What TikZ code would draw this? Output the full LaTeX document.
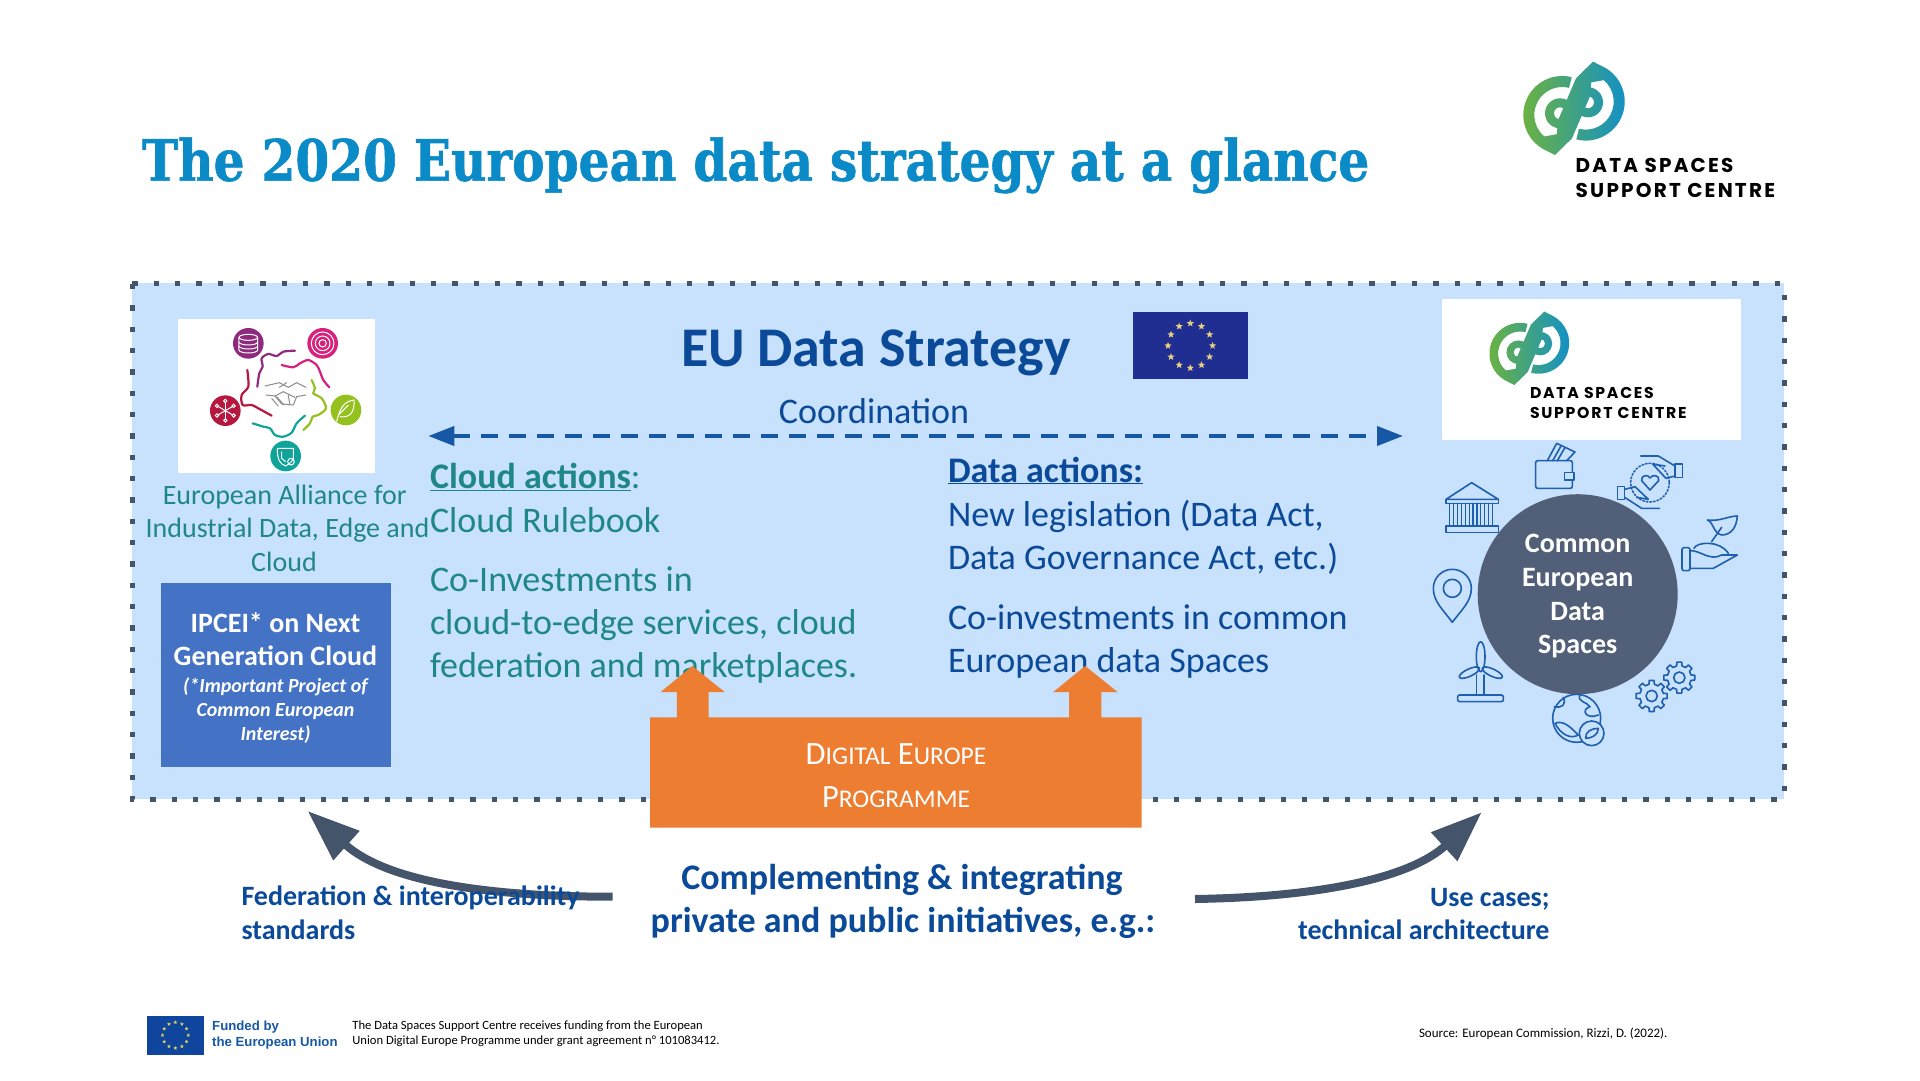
\documentclass[tikz,border=0pt]{standalone}
\usepackage{fontspec}
\setmainfont{Carlito}
\newfontfamily\titlefont[FakeStretch=0.854,FakeBold=1]{DejaVu Serif}
\newfontfamily\logofont[LetterSpace=11]{Poppins}
\newfontfamily\fundfont{Liberation Sans}
\usetikzlibrary{arrows.meta,calc,shapes.geometric}
\definecolor{panelblue}{HTML}{C8E1FC}
\definecolor{slate}{HTML}{44546A}
\definecolor{discgrey}{HTML}{525F78}
\definecolor{navytext}{HTML}{0B4A99}
\definecolor{tealtext}{HTML}{1F8787}
\definecolor{titleblue}{HTML}{0B8AC8}
\definecolor{dashblue}{HTML}{1658A6}
\definecolor{iconblue}{HTML}{1F5FAF}
\definecolor{orangebox}{HTML}{ED7D31}
\definecolor{ipceiblue}{HTML}{4472C4}
\definecolor{flagblue}{HTML}{202D91}
\definecolor{flagstarcol}{HTML}{E5CF80}
\definecolor{fundblue}{HTML}{10459E}
\definecolor{fundstarcol}{HTML}{E2D65A}
\definecolor{logogreen}{HTML}{6DB33F}
\definecolor{logoteal}{HTML}{2C9C8E}
\definecolor{logoblue}{HTML}{1190C8}
\definecolor{allpurple}{HTML}{8E2A7E}
\definecolor{allpink}{HTML}{D6227D}
\definecolor{allred}{HTML}{B5173F}
\definecolor{alllime}{HTML}{95C11F}
\definecolor{allteal}{HTML}{0FA39A}
\newcommand\fsz[1]{\fontsize{#1}{#1}\selectfont}
\newcommand\capsmall[2]{{\fsz{32.5}#1}{\fsz{25.5}#2}}
\def\logomark(#1)(#2){
	\begin{scope}[shift={(#1)},scale=#2]
		\shade[left color=logogreen,middle color=logoteal,right color=logoblue]
			(-2.27,-31.14) arc (-76:-240:39) -- (-19,46.7) -- (-12,25) -- (-29.7,28.15) arc (130:284:28) -- cycle
			(2.27,31.14) arc (104:-60:39) -- (19,-46.7) -- (12,-25) -- (29.7,-28.15) arc (-50:104:28) -- cycle
			(19,-46.7) -- (2,-30) -- (-16,12) -- (-19,46.7) -- (-2,30) -- (16,-12) -- cycle
			(1,5) arc (0:-360:15) (-8,5) arc (0:360:6)
			(29,-6) arc (0:-360:15) (20,-6) arc (0:360:6);
	\end{scope}
}
\def\gearmark(#1){
	\begin{scope}[shift={(#1)}]
		\foreach \a in {0,45,...,315}
			\draw[iconline] (\a-13:36) -- (\a-9:47) -- (\a+9:47) -- (\a+13:36) arc (\a+13:\a+32:36);
		\draw[iconline] (0,0) circle (17);
	\end{scope}
}
\tikzset{
	iconline/.style={draw=iconblue,line width=1.6pt,line join=round,line cap=round},
	handline/.style={draw=black!45,line width=1pt,line join=round,line cap=round},
	cloudline/.style={line width=2.2pt,line cap=round},
	whiteline/.style={draw=white,line width=1pt},
	tealline/.style={anchor=base west,text=tealtext,font=\fsz{36}},
	navyline/.style={anchor=base west,text=navytext,font=\fsz{36}},
	flagstar/.style={star,star points=5,star point ratio=2.3,inner sep=0pt,minimum size=#1},
}
\begin{document}
\begin{tikzpicture}[x=1pt,y=-1pt,every node/.style={inner sep=0pt,outer sep=0pt}]
	\useasboundingbox (0,0) rectangle (1920,1080);
	\fill[white] (0,0) rectangle (1920,1080);

	%%%%% HEADER %%%%%
	\node[anchor=base west,text=titleblue,font=\titlefont\bfseries\fsz{57}] (title) at (142,180.7) {The 2020 European data strategy at a glance};
	\logomark(1574,108.3)(1)
	\node[anchor=base west,font=\logofont\bfseries\fsz{20}] (logotopa) at (1575.7,172.7) {DATA SPACES};
	\node[anchor=base west,font=\logofont\bfseries\fsz{20}] (logotopb) at (1575.7,197.7) {SUPPORT CENTRE};

	%%%%% PANEL %%%%%
	\fill[panelblue] (132.3,283.3) rectangle (1784.3,799.3);
	\draw[slate,line width=5.33pt,dash pattern=on 5.33pt off 16pt] (132.3,283.3) -- (1784.3,283.3) -- (1784.3,799.3) -- (132.3,799.3) -- cycle;

	\node[anchor=base west,text=navytext,font=\bfseries\fsz{56}] (strategy) at (681,366) {EU Data Strategy};
	\fill[flagblue] (1132.7,312.3) rectangle (1248,379.3);
	\foreach \a in {0,30,...,330}
		\node[flagstar=7.5pt,fill=flagstarcol,name=flagstar\a] at ($(1190.3,345.7)+(\a:22.3)$) {};

	\node[anchor=base,text=navytext,font=\fsz{36}] (coord) at (874,423) {Coordination};
	\coordinate (coordleft) at (428.3,436);
	\coordinate (coordright) at (1403,436);
	\draw[dashblue,line width=4pt,dash pattern=on 16.7pt off 11.3pt,{Triangle[length=26pt,width=19pt]}-{Triangle[length=26pt,width=19pt]}] (coordleft) -- (coordright);

	%%%%% ALLIANCE %%%%%
	\fill[white] (178,318.7) rectangle (374.7,472.7);
	\begin{scope}[shift={(120,280)},scale=0.3333]
		\fill[allpurple] (385,190) circle (46);
		\fill[allpink] (608,190) circle (46);
		\fill[allred] (316,392) circle (46);
		\fill[alllime] (678,390) circle (46);
		\fill[allteal] (497,528) circle (46);
		% cloud pieces
		\draw[cloudline,allpurple] plot[smooth] coordinates {(412,320) (418,280) (428,260) (425,235) (445,222) (470,228) (490,215) (525,212)};
		\draw[cloudline,allpink] plot[smooth] coordinates {(485,255) (520,262) (540,250) (565,240) (590,255) (600,275) (610,300) (628,322)};
		\draw[cloudline,alllime] plot[smooth] coordinates {(575,300) (585,325) (580,340) (605,355) (618,385) (595,405) (578,410) (570,430) (550,450)};
		\draw[cloudline,allteal] plot[smooth] coordinates {(398,430) (430,440) (450,445) (465,465) (490,470) (515,458) (530,430) (555,407)};
		\draw[cloudline,allred] plot[smooth] coordinates {(382,270) (385,320) (365,345) (368,375) (395,375) (415,385) (455,407)};
		% handshake
		\draw[handline] (435,318) -- (478,308) -- (505,322) -- (530,308) -- (558,322);
		\draw[handline] (438,345) -- (465,348) -- (485,372) -- (520,375) -- (530,350) -- (558,345);
		\draw[handline] (478,322) -- (500,308) (465,348) -- (490,335) -- (525,352);
		\draw[handline] (455,355) -- (475,378) (470,350) -- (492,375) (505,345) -- (510,375);
		% icons in the small circles
		\draw[whiteline] (385,172) ellipse (28 and 9);
		\draw[whiteline] (357,172) -- (357,210) arc (180:0:28 and 9) -- (413,172);
		\draw[whiteline] (357,186) arc (180:0:28 and 9) (357,198) arc (180:0:28 and 9);
		\draw[whiteline] (608,190) circle (34) (608,190) circle (22) (608,190) circle (11);
		\foreach \a in {30,90,150,210,270,330} {
			\draw[whiteline] (316,392) -- ++(\a:24);
			\draw[whiteline] ($(316,392)+(\a:29)$) circle (5);
		}
		\draw[whiteline] (650,425) .. controls (660,385) and (670,365) .. (702,360) .. controls (705,395) and (690,415) .. (660,410);
		\draw[whiteline] (655,405) -- (685,375);
		\draw[whiteline] (472,505) -- (520,505) -- (520,535) .. controls (515,550) and (500,555) .. (497,558) .. controls (480,552) and (472,540) .. (472,505);
		\draw[whiteline] (485,515) -- (485,535) -- (497,545);
		\draw[whiteline] (513,545) circle (10);
	\end{scope}
	\node[anchor=base,text=tealtext,font=\fsz{28}] (alliancea) at (284.7,504) {European Alliance for};
	\node[anchor=base,text=tealtext,font=\fsz{28}] (allianceb) at (287.5,537.7) {Industrial Data, Edge and};
	\node[anchor=base,text=tealtext,font=\fsz{28}] (alliancec) at (284,571.7) {Cloud};

	%%%%% IPCEI %%%%%
	\fill[ipceiblue] (161,583) rectangle (390.6,766.5);
	\node[anchor=base,text=white,font=\bfseries\fsz{28}] (ipceia) at (275.5,632) {IPCEI* on Next};
	\node[anchor=base,text=white,font=\bfseries\fsz{28}] (ipceib) at (275.5,665) {Generation Cloud};
	\node[anchor=base,text=white,font=\bfseries\itshape\fsz{20}] (ipceic) at (275.5,692) {(*Important Project of};
	\node[anchor=base,text=white,font=\bfseries\itshape\fsz{20}] (ipceid) at (275.5,716) {Common European};
	\node[anchor=base,text=white,font=\bfseries\itshape\fsz{20}] (ipceie) at (275.5,740) {Interest)};

	%%%%% ACTIONS %%%%%
	\node[tealline] (clouda) at (430,488.5) {\underline{\textbf{Cloud actions}}:};
	\node[tealline] (cloudb) at (430,532) {Cloud Rulebook};
	\node[tealline] (cloudc) at (430,591) {Co-Investments in};
	\node[tealline] (cloudd) at (430,634.3) {cloud-to-edge services, cloud};
	\node[tealline] (cloude) at (430,677) {federation and marketplaces.};
	\node[navyline] (dataa) at (948,482) {\underline{\textbf{Data actions:}}};
	\node[navyline] (datab) at (948,526) {New legislation (Data Act,};
	\node[navyline] (datac) at (948,569) {Data Governance Act, etc.)};
	\node[navyline] (datad) at (948,629) {Co-investments in common};
	\node[navyline] (datae) at (948,672) {European data Spaces};

	%%%%% RIGHT LOGO AND SPACES %%%%%
	\fill[white] (1441.7,299) rectangle (1741,440);
	\logomark(1529.3,348.3)(0.787)
	\node[anchor=base west,font=\logofont\bfseries\fsz{15.7}] (logolowa) at (1530,398.2) {DATA SPACES};
	\node[anchor=base west,font=\logofont\bfseries\fsz{15.7}] (logolowb) at (1530,418.2) {SUPPORT CENTRE};

	\node[circle,fill=discgrey,minimum size=200pt] (spaces) at (1577.7,594.2) {};
	\node[anchor=base,text=white,font=\bfseries\fsz{28}] (spacesa) at (1577.7,552.7) {Common};
	\node[anchor=base,text=white,font=\bfseries\fsz{28}] (spacesb) at (1577.7,586) {European};
	\node[anchor=base,text=white,font=\bfseries\fsz{28}] (spacesc) at (1577.7,620) {Data};
	\node[anchor=base,text=white,font=\bfseries\fsz{28}] (spacesd) at (1577.7,653) {Spaces};

	\begin{scope}[shift={(1420,440)},scale=0.3333]
		% wallet
		\draw[iconline] (382,62) -- (410,10) -- (465,36) -- (440,62);
		\draw[iconline] (398,62) -- (423,18) (412,62) -- (434,24);
		\draw[iconline,rounded corners=2pt] (347,62) rectangle (457,145);
		\draw[iconline,fill=panelblue] (433,97) rectangle (462,120);
		% hands and heart
		\draw[iconline,dotted] (690,128) circle (58);
		\draw[iconline] (690,150) -- (665,122) .. controls (662,105) and (685,102) .. (690,114) .. controls (697,102) and (720,105) .. (716,122) -- cycle;
		\draw[iconline] (592,140) rectangle (614,178);
		\draw[iconline] (614,148) -- (645,140) -- (685,178) -- (650,172);
		\draw[iconline] (614,172) -- (665,205) -- (718,205);
		\draw[iconline] (765,72) rectangle (788,112);
		\draw[iconline] (765,108) -- (738,115) -- (698,72) -- (735,78);
		\draw[iconline] (765,78) -- (715,48) -- (662,48);
		% leaf on hand
		\draw[iconline,rounded corners=2pt] (786,323) rectangle (810,392);
		\draw[iconline] (810,332) .. controls (840,330) and (870,365) .. (905,345) -- (952,345) -- (880,385) -- (810,385);
		\draw[iconline] (822,325) .. controls (830,305) and (900,300) .. (925,340);
		\draw[iconline] (875,305) -- (905,262);
		\draw[iconline] (905,285) .. controls (880,280) and (880,245) .. (862,240) .. controls (900,245) and (925,228) .. (952,228) .. controls (950,260) and (935,285) .. (905,285);
		% temple
		\draw[iconline] (78,178) -- (155,128) -- (235,178) -- cycle;
		\draw[iconline] (78,178) rectangle (235,190);
		\draw[iconline] (78,258) rectangle (235,277);
		\foreach \cx in {95,118,142,165,188,212}
			\draw[iconline] (\cx-6,190) -- (\cx-6,258) (\cx+6,190) -- (\cx+6,258);
		% pin
		\draw[iconline] (97,445) circle (27);
		\draw[iconline] (97,547) .. controls (70,510) and (40,485) .. (40,445) arc (180:360:57) .. controls (154,485) and (124,510) .. (97,547);
		% turbine
		\draw[iconline] (182,650) ellipse (13 and 45);
		\draw[iconline,rotate around={25:(148,698)}] (148,698) ellipse (33 and 11);
		\draw[iconline,rotate around={-25:(217,698)}] (217,698) ellipse (33 and 11);
		\draw[iconline] (170,705) -- (170,765) (192,705) -- (192,765);
		\draw[iconline,rounded corners=2pt] (113,765) rectangle (250,785);
		% globe
		\draw[iconline] (470,835) circle (72);
		\draw[iconline] (430,772) .. controls (440,795) and (425,805) .. (403,800);
		\draw[iconline] (480,765) .. controls (470,785) and (500,785) .. (510,800) .. controls (480,810) and (500,840) .. (535,825);
		\draw[iconline] (405,850) .. controls (430,840) and (450,860) .. (475,885) .. controls (450,900) and (420,880) .. (405,850);
		\draw[iconline,fill=panelblue] (515,880) circle (37);
		\draw[iconline] (497,895) .. controls (495,875) and (515,865) .. (535,865) .. controls (535,885) and (515,895) .. (497,895);
		% gears
		\gearmark(695,768)
		\gearmark(778,713)
	\end{scope}

	%%%%% PROGRAMME %%%%%
	\fill[orangebox] (650,717.3) -- (676.8,717.3) -- (676.8,692) -- (660.7,692) -- (692.3,666) -- (724.7,692) -- (708.5,692) -- (708.5,717.3) -- (1069,717.3) -- (1069,692) -- (1053.2,692) -- (1085.2,666) -- (1117.6,692) -- (1101.4,692) -- (1101.4,717.3) -- (1141.7,717.3) -- (1141.7,827.7) -- (650,827.7) -- cycle;
	\node[anchor=base,text=white,font=\fsz{32.5}] (progra) at (896,764) {\capsmall{D}{IGITAL} \capsmall{E}{UROPE}};
	\node[anchor=base,text=white,font=\fsz{32.5}] (progrb) at (896,807.7) {\capsmall{P}{ROGRAMME}};

	%%%%% BOTTOM %%%%%
	\node[anchor=base,text=navytext,font=\bfseries\fsz{36}] (compa) at (902,889) {Complementing \& integrating};
	\node[anchor=base,text=navytext,font=\bfseries\fsz{36}] (compb) at (903,932) {private and public initiatives, e.g.:};

	\coordinate (fedstart) at (612.7,896.7);
	\coordinate (fedtip) at (307.7,811);
	\draw[slate,line width=8pt,-{Triangle[length=52pt,width=37.4pt]}] (fedstart) .. controls (480,896.7) and (385,880) .. (fedtip);
	\coordinate (usestart) at (1195,899);
	\coordinate (usetip) at (1481.7,812.3);
	\draw[slate,line width=8pt,-{Triangle[length=51pt,width=37pt]}] (usestart) .. controls (1320,897) and (1410,878) .. (usetip);

	\node[anchor=base west,text=navytext,font=\bfseries\fsz{28}] (feda) at (241.5,905.5) {Federation \& interoperability};
	\node[anchor=base west,text=navytext,font=\bfseries\fsz{28}] (fedb) at (241.5,939) {standards};
	\node[anchor=base east,text=navytext,font=\bfseries\fsz{28}] (usea) at (1549.5,906) {Use cases;};
	\node[anchor=base east,text=navytext,font=\bfseries\fsz{28}] (useb) at (1549.5,939) {technical architecture};

	%%%%% FOOTER %%%%%
	\fill[fundblue] (146.9,1015.7) rectangle (204,1054.7);
	\foreach \a in {0,30,...,330}
		\node[flagstar=4pt,fill=fundstarcol,name=fundstar\a] at ($(175.4,1035.2)+(\a:12.9)$) {};
	\node[anchor=base west,text=dashblue,font=\fundfont\bfseries\fsz{13.2}] (funda) at (212.2,1030.7) {Funded by};
	\node[anchor=base west,text=dashblue,font=\fundfont\bfseries\fsz{13.2}] (fundb) at (212.2,1046) {the European Union};
	\node[anchor=base west,font=\fsz{12.6}] (granta) at (352.4,1029.3) {The Data Spaces Support Centre receives funding from the European};
	\node[anchor=base west,font=\fsz{12.6}] (grantb) at (352.4,1044.3) {Union Digital Europe Programme under grant agreement n° 101083412.};
	\node[anchor=base west,font=\fsz{13}] (source) at (1419,1037) {Source: European Commission, Rizzi, D. (2022).};
\end{tikzpicture}
\end{document}
